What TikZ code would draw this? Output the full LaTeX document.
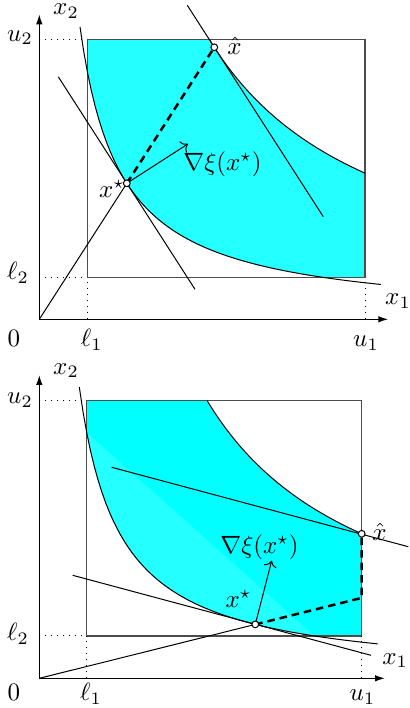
\documentclass[tikz,border=0pt]{standalone}
\usepackage{amsmath,amssymb}
\usetikzlibrary{positioning,arrows.meta,calc}
\definecolor{regioncyan}{RGB}{0,255,255}
\definecolor{bandcyan}{RGB}{36,255,255}
\tikzset{
  axisarr/.style={-{Latex[length=4pt,width=2.6pt]}, line width=0.5pt},
  boxline/.style={draw=black!70, line width=0.5pt},
  guide/.style={dotted, line width=0.4pt},
  ptmark/.style={circle, draw=black, fill=white, inner sep=0pt,
                 minimum size=2.7pt, line width=0.4pt},
  gradarr/.style={-{To[length=2.5pt]}, line width=0.4pt},
  pathdash/.style={line width=1pt, dash pattern=on 3pt off 2pt},
  bandfill/.style={fill=bandcyan},
  lbl/.style={inner sep=0pt},
}

\begin{document}
\begin{tikzpicture}[x=0.4pt, y=0.4pt]
\useasboundingbox (0,0) rectangle (409,708);

% upper panel: x-hat reached along the ray
\begin{scope}[shift={(39.3,388.7)}]
  \fill[bandfill] (48,280) -- (170,280)
    -- plot[domain=170:325.7, samples=60] (\x,{476/\x*100})
    -- (325.7,42) -- plot[domain=283.3:48, samples=60] (\x,{119/\x*100}) -- cycle;
  \draw[boxline] (48,42) rectangle (325.7,280);
  \coordinate (aO) at (0,0);
  \coordinate (aX) at (349,0);
  \coordinate (aY) at (0,305);
  \coordinate (axs) at (87.5,136);
  \coordinate (axh) at (175,272);
  \coordinate (agr) at (148.7,175.4);
  \coordinate (at1) at (19,242.5);
  \coordinate (at2) at (155.7,30);
  \coordinate (ah1) at (148,314);
  \coordinate (ah2) at (284,102.6);
  \foreach \a/\b in {0/280,0/42}
    \draw[guide] (\a,\b) -- (48,\b);
  \foreach \a in {48,325.7}
    \draw[guide] (\a,0) -- (\a,42);
  \draw plot[domain=40.7:341.7, samples=80] (\x,{119/\x*100});
  \draw plot[domain=170:325.7, samples=60] (\x,{476/\x*100});
  \draw[axisarr] (aO) -- (aX);
  \draw[axisarr] (aO) -- (aY);
  \draw (at1) -- (at2);
  \draw (ah1) -- (ah2);
  \draw (aO) -- (axs);
  \draw[pathdash] (axs) -- (axh);
  \draw[gradarr] (axs) -- (agr);
  \node[ptmark] (axsm) at (axs) {};
  \node[ptmark] (axhm) at (axh) {};
  \node[lbl] (axsl) at (72.7,130.3) {$x^{\star}$};
  \node[lbl] (axhl) at (195.2,273) {$\hat{x}$};
  \node[lbl] (agrl) at (183.2,154.8) {$\nabla\xi(x^{\star})$};
  \node[lbl, anchor=base] (a0) at (-25.3,-27.7) {$0$};
  \node[lbl, anchor=base] (al1) at (52.4,-27.7) {$\ell_1$};
  \node[lbl, anchor=base] (au1) at (326.7,-27.7) {$u_1$};
  \node[lbl] (al2) at (-21.3,46.8) {$\ell_2$};
  \node[lbl] (au2) at (-19.3,281.8) {$u_2$};
  \node[lbl] (ax1) at (358.7,18.3) {$x_1$};
  \node[lbl] (ax2) at (26.7,308) {$x_2$};
\end{scope}

% lower panel: x-hat reached along the ray, then the bound
\begin{scope}[shift={(39.3,29.7)}]
  \fill[regioncyan] (47.4,277.6) -- (167.9,277.6)
    -- plot[domain=167.9:322.4, samples=60] (\x,{466/\x*100})
    -- (322.4,42.3) -- plot[domain=275.4:47.4, samples=60] (\x,{116.5/\x*100}) -- cycle;
  \fill[bandfill] plot[domain=47.4:275.4, samples=60] (\x,{116.5/\x*100}) -- cycle;
  \draw[boxline] (47.4,42.3) rectangle (322.4,277.6);
  \coordinate (bO) at (0,0);
  \coordinate (bX) at (345.7,0);
  \coordinate (bY) at (0,303.3);
  \coordinate (bxs) at (216,53.9);
  \coordinate (bxh) at (322.4,144.5);
  \coordinate (bkn) at (322.4,80.4);
  \coordinate (bgr) at (232.4,117.6);
  \coordinate (bt1) at (33.4,103);
  \coordinate (bt2) at (331.7,23);
  \coordinate (bh1) at (72.4,211);
  \coordinate (bh2) at (369,131.6);
  \foreach \a/\b in {0/277.6,0/42.3}
    \draw[guide] (\a,\b) -- (47.4,\b);
  \foreach \a in {47.4,322.4}
    \draw[guide] (\a,0) -- (\a,42.3);
  \draw plot[domain=40:338.4, samples=80] (\x,{116.5/\x*100});
  \draw plot[domain=167.9:322.4, samples=60] (\x,{466/\x*100});
  \draw[axisarr] (bO) -- (bX);
  \draw[axisarr] (bO) -- (bY);
  \draw (bt1) -- (bt2);
  \draw (bh1) -- (bh2);
  \draw (bO) -- (bxs);
  \draw[pathdash] (bxs) -- (bkn) -- (bxh);
  \draw[gradarr] (bxs) -- (bgr);
  \node[ptmark] (bxsm) at (bxs) {};
  \node[ptmark] (bxhm) at (bxh) {};
  \node[lbl] (bxsl) at (199.2,79.8) {$x^{\star}$};
  \node[lbl] (bxhl) at (340.2,146.5) {$\hat{x}$};
  \node[lbl] (bgrl) at (220.2,130.8) {$\nabla\xi(x^{\star})$};
  \node[lbl, anchor=base] (b0) at (-25.3,-22.2) {$0$};
  \node[lbl, anchor=base] (bl1) at (51.7,-22.2) {$\ell_1$};
  \node[lbl, anchor=base] (bu1) at (323.2,-22.2) {$u_1$};
  \node[lbl] (bl2) at (-21.3,44.8) {$\ell_2$};
  \node[lbl] (bu2) at (-19.3,278.3) {$u_2$};
  \node[lbl] (bx1) at (355.7,17.8) {$x_1$};
  \node[lbl] (bx2) at (26.7,307.8) {$x_2$};
\end{scope}
\end{tikzpicture}
\end{document}
